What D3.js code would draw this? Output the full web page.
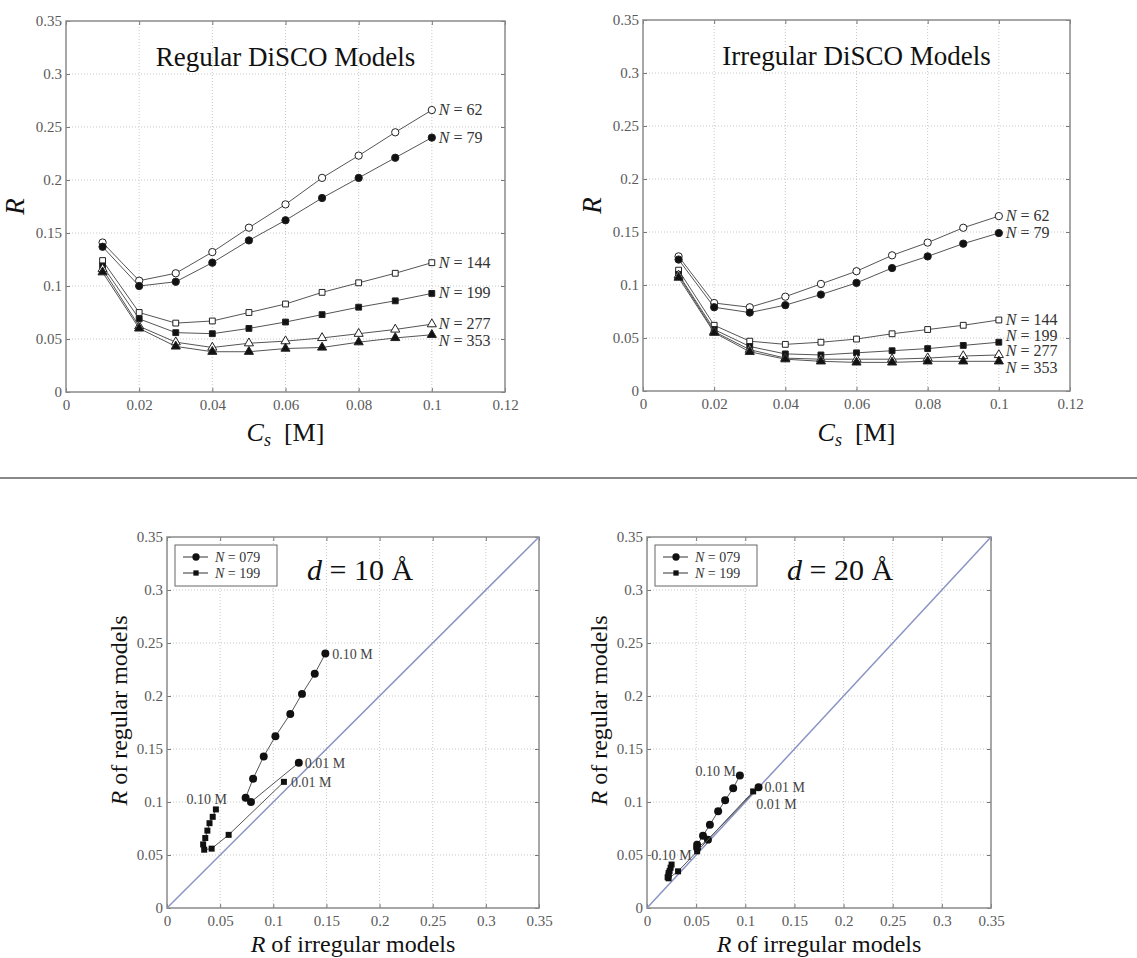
<!DOCTYPE html>
<html>
<head>
<meta charset="utf-8">
<script src="https://cdn.jsdelivr.net/npm/d3@7"></script>
<style>
  body { margin: 0; background: #fff; }
  svg { display: block; }
  text { font-family: "Liberation Serif", "DejaVu Serif", serif; }
</style>
</head>
<body>
<svg id="fig" width="1137" height="958"></svg>
<script>
// salt concentration C_s [M]
const conc = [0.01, 0.02, 0.03, 0.04, 0.05, 0.06, 0.07, 0.08, 0.09, 0.10];
const sizes = [62, 79, 144, 199, 277, 353];

// R of regular DiSCO models, one array per N
const reg62  = [0.141, 0.105, 0.112, 0.132, 0.155, 0.177, 0.202, 0.223, 0.245, 0.266];
const reg79  = [0.137, 0.100, 0.104, 0.122, 0.143, 0.162, 0.183, 0.202, 0.221, 0.240];
const reg144 = [0.124, 0.075, 0.065, 0.067, 0.075, 0.083, 0.094, 0.103, 0.112, 0.122];
const reg199 = [0.119, 0.069, 0.056, 0.055, 0.060, 0.066, 0.073, 0.080, 0.086, 0.093];
const reg277 = [0.116, 0.062, 0.047, 0.042, 0.046, 0.048, 0.051, 0.055, 0.059, 0.064];
const reg353 = [0.113, 0.060, 0.043, 0.038, 0.038, 0.041, 0.042, 0.047, 0.051, 0.054];

// R of irregular DiSCO models
const irr62  = [0.127, 0.083, 0.079, 0.089, 0.101, 0.113, 0.128, 0.140, 0.154, 0.165];
const irr79  = [0.124, 0.079, 0.074, 0.081, 0.091, 0.102, 0.116, 0.127, 0.139, 0.149];
const irr144 = [0.114, 0.062, 0.047, 0.044, 0.046, 0.049, 0.054, 0.058, 0.062, 0.067];
const irr199 = [0.110, 0.058, 0.042, 0.035, 0.034, 0.036, 0.038, 0.040, 0.043, 0.046];
const irr277 = [0.109, 0.056, 0.039, 0.031, 0.030, 0.030, 0.030, 0.031, 0.033, 0.034];
const irr353 = [0.107, 0.055, 0.037, 0.030, 0.028, 0.027, 0.027, 0.028, 0.028, 0.028];

// d = 20 A runs (irregular vs regular)
const irr20N79  = [0.1135, 0.062, 0.051, 0.051, 0.057, 0.064, 0.0724, 0.0795, 0.0877, 0.0945];
const reg20N79  = [0.114, 0.0645, 0.0566, 0.0597, 0.0682, 0.0786, 0.0912, 0.1016, 0.113, 0.125];
const irr20N199 = [0.108, 0.051, 0.0316, 0.022, 0.021, 0.022, 0.022, 0.023, 0.024, 0.025];
const reg20N199 = [0.110, 0.0535, 0.0346, 0.028, 0.029, 0.031, 0.033, 0.035, 0.038, 0.041];

const xTicksCs = [0, 0.02, 0.04, 0.06, 0.08, 0.10, 0.12];
const rTicks = [0, 0.05, 0.10, 0.15, 0.20, 0.25, 0.30, 0.35];

const regular = [reg62, reg79, reg144, reg199, reg277, reg353];
const irregular = [irr62, irr79, irr144, irr199, irr277, irr353];

const markerType = [d3.symbolCircle, d3.symbolCircle, d3.symbolSquare, d3.symbolSquare, d3.symbolTriangle, d3.symbolTriangle];
const markerFilled = [false, true, false, true, false, true];
const markerArea = [42, 42, 34, 34, 36, 36];

const svg = d3.select('#fig');
const fmt = d3.format('~g');

function panel(box, xMax, xTicks, yTicks) {
	let g = svg.append('g');
	let x = d3.scaleLinear().domain([0, xMax]).range([box.left, box.right]);
	let y = d3.scaleLinear().domain([0, 0.35]).range([box.bottom, box.top]);

	// dotted grid
	g.selectAll('.gx')
		.data(xTicks.slice(1, -1))
		.enter().append('line')
		.attr('x1', d => x(d)).attr('x2', d => x(d))
		.attr('y1', box.top).attr('y2', box.bottom)
		.attr('stroke', '#c8c8c8').attr('stroke-dasharray', '1,2')
	;
	g.selectAll('.gy')
		.data(yTicks.slice(1, -1))
		.enter().append('line')
		.attr('x1', box.left).attr('x2', box.right)
		.attr('y1', d => y(d)).attr('y2', d => y(d))
		.attr('stroke', '#c8c8c8').attr('stroke-dasharray', '1,2')
	;

	let axes = [
		[d3.axisBottom(x).tickValues(xTicks).tickSize(-4).tickPadding(7).tickFormat(fmt), 0, box.bottom],
		[d3.axisTop(x).tickValues(xTicks).tickSize(-4).tickFormat(''), 0, box.top],
		[d3.axisLeft(y).tickValues(yTicks).tickSize(-4).tickPadding(4).tickFormat(fmt), box.left, 0],
		[d3.axisRight(y).tickValues(yTicks).tickSize(-4).tickFormat(''), box.right, 0]
	];
	axes.forEach(a => {
		let ax = g.append('g')
			.attr('transform', 'translate(' + a[1] + ',' + a[2] + ')')
			.call(a[0]);
		ax.select('.domain').remove();
		ax.selectAll('line').attr('stroke', '#777');
		ax.selectAll('text')
			.style('font-family', '"Liberation Serif", serif')
			.style('font-size', '15px')
			.attr('fill', '#5a5a5a');
	});

	g.append('rect')
		.attr('x', box.left).attr('y', box.top)
		.attr('width', box.right - box.left).attr('height', box.bottom - box.top)
		.attr('fill', 'none').attr('stroke', '#8a8a8a').attr('stroke-width', 1.5)
	;

	return {g: g, x: x, y: y};
}

function curveLabel(g, px, py, n, dy) {
	let t = g.append('text')
		.attr('x', px + 7).attr('y', py + dy + 5)
		.style('font-size', '16px')
		.attr('fill', '#333');
	t.append('tspan').style('font-style', 'italic').text('N');
	t.append('tspan').text(' = ' + n);
}

function seriesPanel(box, title, values, labelDy) {
	let p = panel(box, 0.12, xTicksCs, rTicks);
	let line = d3.line().x((d, i) => p.x(conc[i])).y(d => p.y(d));

	values.forEach((vals, k) => {
		p.g.append('path')
			.attr('d', line(vals))
			.attr('fill', 'none').attr('stroke', '#555').attr('stroke-width', 1)
		;
		p.g.selectAll('.m' + k)
			.data(vals)
			.enter().append('path')
			.attr('transform', (d, i) => 'translate(' + p.x(conc[i]) + ',' + p.y(d) + ')')
			.attr('d', d3.symbol().type(markerType[k]).size(markerArea[k]))
			.attr('fill', markerFilled[k] ? '#111' : '#fff')
			.attr('stroke', '#222').attr('stroke-width', 1)
		;
		let last = vals.length - 1;
		curveLabel(p.g, p.x(conc[last]), p.y(vals[last]), sizes[k], labelDy[k]);
	});

	let cx = (box.left + box.right) / 2;
	p.g.append('text')
		.attr('x', cx).attr('y', box.top + 45)
		.attr('text-anchor', 'middle')
		.style('font-size', '27px')
		.attr('fill', '#111')
		.text(title)
	;

	let xl = p.g.append('text')
		.attr('x', cx).attr('y', 441)
		.attr('text-anchor', 'middle')
		.style('font-size', '26px')
		.attr('fill', '#111');
	xl.append('tspan').style('font-style', 'italic').text('C');
	xl.append('tspan').style('font-style', 'italic').style('font-size', '18px').attr('dy', 5).text('s');
	xl.append('tspan').attr('dy', -5).text('\u2002[M]');

	p.g.append('text')
		.attr('transform', 'translate(' + (box.left - 42) + ',' + ((box.top + box.bottom) / 2) + ') rotate(-90)')
		.attr('text-anchor', 'middle')
		.style('font-size', '27px')
		.style('font-style', 'italic')
		.attr('fill', '#111')
		.text('R')
	;
}

function comparePanel(box, dist, runs) {
	let p = panel(box, 0.35, rTicks, rTicks);

	p.g.append('line')
		.attr('x1', p.x(0)).attr('y1', p.y(0))
		.attr('x2', p.x(0.35)).attr('y2', p.y(0.35))
		.attr('stroke', '#8b93c4').attr('stroke-width', 1.5)
	;

	let line = d3.line().x(d => p.x(d[0])).y(d => p.y(d[1]));

	runs.forEach(r => {
		let pts = r.irr.map((v, i) => [v, r.reg[i]]);
		p.g.append('path')
			.attr('d', line(pts))
			.attr('fill', 'none').attr('stroke', '#555').attr('stroke-width', 1)
		;
		p.g.selectAll(null)
			.data(pts)
			.enter().append('path')
			.attr('transform', d => 'translate(' + p.x(d[0]) + ',' + p.y(d[1]) + ')')
			.attr('d', d3.symbol().type(r.symbol).size(r.area))
			.attr('fill', '#111')
		;
		r.tags.forEach(t => {
			let d = pts[t.i];
			p.g.append('text')
				.attr('x', p.x(d[0]) + t.dx).attr('y', p.y(d[1]) + t.dy)
				.attr('text-anchor', t.anchor)
				.style('font-size', '14px')
				.attr('fill', '#444')
				.text(t.text)
			;
		});
	});

	// legend
	let lg = p.g.append('g').attr('transform', 'translate(' + (box.left + 8) + ',' + (box.top + 8) + ')');
	lg.append('rect')
		.attr('width', 102).attr('height', 41)
		.attr('fill', '#fff').attr('stroke', '#666')
	;
	runs.forEach((r, k) => {
		let yy = 12 + k * 16;
		lg.append('line')
			.attr('x1', 8).attr('x2', 33).attr('y1', yy).attr('y2', yy)
			.attr('stroke', '#333')
		;
		lg.append('path')
			.attr('transform', 'translate(21,' + yy + ')')
			.attr('d', d3.symbol().type(r.symbol).size(r.area - 8))
			.attr('fill', '#111')
		;
		let t = lg.append('text')
			.attr('x', 40).attr('y', yy + 5)
			.style('font-size', '14px')
			.attr('fill', '#333');
		t.append('tspan').style('font-style', 'italic').text('N');
		t.append('tspan').text(' = ' + r.name);
	});

	let title = p.g.append('text')
		.attr('x', box.left + 140).attr('y', box.top + 43)
		.style('font-size', '30px')
		.attr('fill', '#111');
	title.append('tspan').style('font-style', 'italic').text('d');
	title.append('tspan').text(' = ' + dist + ' \u00c5');

	let cx = (box.left + box.right) / 2;
	let xl = p.g.append('text')
		.attr('x', cx).attr('y', 952)
		.attr('text-anchor', 'middle')
		.style('font-size', '24px')
		.attr('fill', '#111');
	xl.append('tspan').style('font-style', 'italic').text('R');
	xl.append('tspan').text(' of irregular models');

	let yl = p.g.append('text')
		.attr('transform', 'translate(' + (box.left - 40) + ',' + ((box.top + box.bottom) / 2 - 12) + ') rotate(-90)')
		.attr('text-anchor', 'middle')
		.style('font-size', '24px')
		.attr('fill', '#111');
	yl.append('tspan').style('font-style', 'italic').text('R');
	yl.append('tspan').text(' of regular models');
}

seriesPanel({left: 66, right: 505, top: 21, bottom: 392}, 'Regular DiSCO Models', regular, [0, 0, 0, 0, 0, 6]);
seriesPanel({left: 643, right: 1070, top: 20, bottom: 391}, 'Irregular DiSCO Models', irregular, [0, 0, 0, -6, -4, 7]);

// separator between the two rows
svg.append('line')
	.attr('x1', 0).attr('x2', 1137).attr('y1', 478).attr('y2', 478)
	.attr('stroke', '#888').attr('stroke-width', 2)
;

comparePanel({left: 167, right: 539, top: 537, bottom: 908}, 10, [
	{name: '079', irr: irr79, reg: reg79, symbol: d3.symbolCircle, area: 50,
		tags: [{i: 9, text: '0.10 M', dx: 7, dy: 5, anchor: 'start'}, {i: 0, text: '0.01 M', dx: 6, dy: 5, anchor: 'start'}]},
	{name: '199', irr: irr199, reg: reg199, symbol: d3.symbolSquare, area: 36,
		tags: [{i: 9, text: '0.10 M', dx: 11, dy: -5, anchor: 'end'}, {i: 0, text: '0.01 M', dx: 7, dy: 5, anchor: 'start'}]}
]);

comparePanel({left: 647, right: 991, top: 537, bottom: 908}, 20, [
	{name: '079', irr: irr20N79, reg: reg20N79, symbol: d3.symbolCircle, area: 50,
		tags: [{i: 9, text: '0.10 M', dx: -4, dy: 0, anchor: 'end'}, {i: 0, text: '0.01 M', dx: 6, dy: 5, anchor: 'start'}]},
	{name: '199', irr: irr20N199, reg: reg20N199, symbol: d3.symbolSquare, area: 36,
		tags: [{i: 9, text: '0.10 M', dx: 0, dy: -5, anchor: 'middle'}, {i: 0, text: '0.01 M', dx: 3, dy: 18, anchor: 'start'}]}
]);
</script>
</body>
</html>
